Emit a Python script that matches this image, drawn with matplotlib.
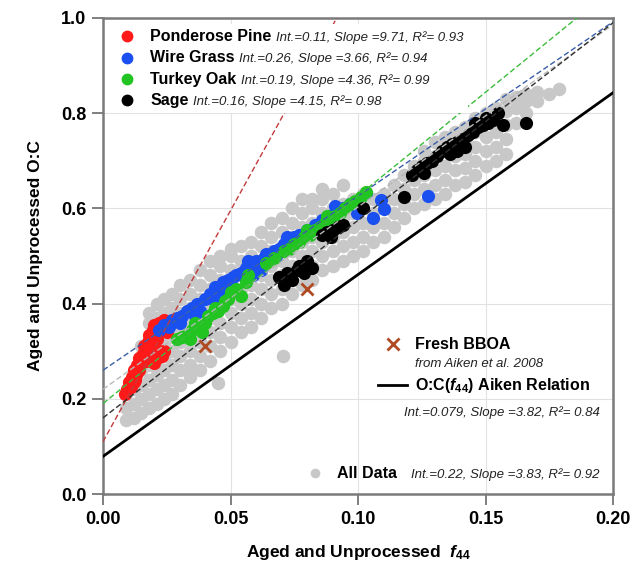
import numpy as np
import matplotlib
matplotlib.use("Agg")
import matplotlib.pyplot as plt
from matplotlib.lines import Line2D
from matplotlib.ticker import FormatStrFormatter
from matplotlib.offsetbox import AnchoredOffsetbox, HPacker, VPacker, TextArea, DrawingArea

plt.rcParams['font.family'] = ['Liberation Sans', 'DejaVu Sans']
plt.rcParams['mathtext.fontset'] = 'custom'
plt.rcParams['mathtext.rm'] = 'Liberation Sans:bold'
plt.rcParams['mathtext.bf'] = 'Liberation Sans:bold'
plt.rcParams['mathtext.it'] = 'Liberation Sans:italic:bold'

# ---- data ----
# All data (grey): one f44 value per column, with the O:C values in that column
gray_col_f44 = [0.009, 0.012, 0.015, 0.018, 0.021, 0.024, 0.027, 0.030, 0.034, 0.038,
                0.042, 0.045, 0.046, 0.050, 0.054, 0.058, 0.062, 0.066, 0.0705, 0.070,
                0.074, 0.078, 0.082, 0.086, 0.090, 0.094, 0.098, 0.102, 0.106, 0.110,
                0.114, 0.118, 0.122, 0.126, 0.130, 0.134, 0.138, 0.142, 0.146, 0.150,
                0.154, 0.158, 0.162, 0.166, 0.170, 0.175, 0.179]
gray_col_oc = [
    [0.155, 0.18, 0.21],
    [0.16, 0.19, 0.22, 0.25],
    [0.17, 0.20, 0.23, 0.26, 0.29, 0.31],
    [0.18, 0.21, 0.24, 0.27, 0.30, 0.33, 0.36, 0.38],
    [0.19, 0.22, 0.25, 0.28, 0.31, 0.34, 0.37, 0.40],
    [0.20, 0.23, 0.26, 0.29, 0.32, 0.35, 0.38, 0.41],
    [0.21, 0.24, 0.27, 0.30, 0.33, 0.36, 0.39, 0.42],
    [0.23, 0.26, 0.29, 0.32, 0.35, 0.38, 0.41, 0.44],
    [0.245, 0.27, 0.30, 0.33, 0.36, 0.39, 0.42, 0.45],
    [0.26, 0.29, 0.32, 0.35, 0.38, 0.41, 0.44, 0.47],
    [0.28, 0.31, 0.34, 0.37, 0.40, 0.43, 0.46, 0.49],
    [0.233],
    [0.30, 0.33, 0.36, 0.39, 0.42, 0.45, 0.48, 0.50],
    [0.32, 0.35, 0.38, 0.41, 0.44, 0.47, 0.50, 0.515],
    [0.34, 0.37, 0.40, 0.43, 0.46, 0.49, 0.52],
    [0.35, 0.38, 0.41, 0.44, 0.47, 0.50, 0.53],
    [0.37, 0.40, 0.43, 0.46, 0.49, 0.52, 0.55],
    [0.39, 0.42, 0.45, 0.48, 0.51, 0.54, 0.57],
    [0.29],
    [0.40, 0.43, 0.46, 0.49, 0.52, 0.55, 0.58],
    [0.42, 0.45, 0.48, 0.51, 0.54, 0.57, 0.60],
    [0.44, 0.47, 0.50, 0.53, 0.56, 0.59, 0.62],
    [0.45, 0.48, 0.51, 0.54, 0.57, 0.60, 0.62],
    [0.47, 0.50, 0.53, 0.56, 0.59, 0.62, 0.64],
    [0.48, 0.51, 0.54, 0.57, 0.60, 0.63],
    [0.49, 0.52, 0.55, 0.58, 0.61, 0.65],
    [0.50, 0.53, 0.56, 0.59, 0.62],
    [0.51, 0.54, 0.57, 0.60, 0.63],
    [0.53, 0.56, 0.59, 0.62],
    [0.54, 0.57, 0.60, 0.63],
    [0.56, 0.59, 0.62, 0.65],
    [0.58, 0.61, 0.64, 0.67],
    [0.60, 0.63, 0.66, 0.69],
    [0.61, 0.64, 0.67, 0.70, 0.72],
    [0.62, 0.65, 0.68, 0.71, 0.74],
    [0.63, 0.66, 0.69, 0.72, 0.75],
    [0.65, 0.68, 0.71, 0.74, 0.76],
    [0.655, 0.685, 0.715, 0.745, 0.77],
    [0.67, 0.70, 0.73, 0.76, 0.79],
    [0.69, 0.72, 0.75, 0.78, 0.80],
    [0.70, 0.73, 0.76, 0.79, 0.81],
    [0.715, 0.745, 0.775, 0.805, 0.83],
    [0.78, 0.81, 0.835],
    [0.80, 0.825, 0.84],
    [0.825, 0.845],
    [0.84],
    [0.85],
]

# Ponderose Pine
pine_f44 = [0.0085, 0.0095, 0.0100, 0.0110, 0.0115, 0.0120, 0.0125, 0.0130, 0.0135, 0.0140,
            0.0150, 0.0155, 0.0160, 0.0170, 0.0175, 0.0180, 0.0190, 0.0195, 0.0200, 0.0210,
            0.0220, 0.0230, 0.0240, 0.0250, 0.0190, 0.0210, 0.0230, 0.0240, 0.0200, 0.0165,
            0.0170, 0.0220, 0.0180, 0.0140, 0.0210, 0.0160, 0.0120, 0.0250]
pine_oc = [0.210, 0.220, 0.235, 0.225, 0.245, 0.260, 0.240, 0.250, 0.270, 0.285,
           0.275, 0.295, 0.310, 0.300, 0.320, 0.335, 0.325, 0.345, 0.355, 0.340,
           0.360, 0.350, 0.365, 0.355, 0.290, 0.285, 0.290, 0.300, 0.275, 0.280,
           0.280, 0.300, 0.310, 0.260, 0.325, 0.290, 0.235, 0.340]

# Wire Grass
grass_f44 = [0.022, 0.024, 0.026, 0.027, 0.029, 0.031, 0.033, 0.035, 0.037, 0.038,
             0.040, 0.040, 0.042, 0.044, 0.045, 0.047, 0.049, 0.050, 0.052, 0.054,
             0.056, 0.058, 0.059, 0.060, 0.062, 0.063, 0.065, 0.067, 0.069, 0.071,
             0.073, 0.075, 0.077, 0.080, 0.083, 0.086, 0.089, 0.091, 0.094, 0.097,
             0.0995, 0.103, 0.106, 0.109, 0.110, 0.1275, 0.046, 0.051, 0.055, 0.057,
             0.064, 0.068, 0.072, 0.043, 0.036, 0.030]
grass_oc = [0.345, 0.355, 0.350, 0.365, 0.370, 0.375, 0.385, 0.390, 0.400, 0.385,
            0.410, 0.375, 0.420, 0.435, 0.420, 0.445, 0.450, 0.440, 0.460, 0.465,
            0.475, 0.480, 0.460, 0.490, 0.470, 0.495, 0.500, 0.510, 0.515, 0.525,
            0.530, 0.540, 0.545, 0.555, 0.565, 0.575, 0.585, 0.605, 0.600, 0.610,
            0.590, 0.632, 0.580, 0.617, 0.598, 0.626, 0.430, 0.455, 0.460, 0.490,
            0.505, 0.500, 0.540, 0.410, 0.375, 0.360]

# Turkey Oak
oak_f44 = [0.029, 0.031, 0.033, 0.035, 0.036, 0.038, 0.040, 0.041, 0.043, 0.045,
           0.047, 0.049, 0.050, 0.052, 0.054, 0.056, 0.057, 0.064, 0.067, 0.071,
           0.073, 0.075, 0.077, 0.079, 0.080, 0.081, 0.083, 0.085, 0.087, 0.088,
           0.089, 0.091, 0.093, 0.095, 0.097, 0.099, 0.101, 0.103, 0.034, 0.039,
           0.044, 0.048]
oak_oc = [0.325, 0.330, 0.335, 0.345, 0.360, 0.350, 0.360, 0.375, 0.380, 0.385,
          0.395, 0.410, 0.425, 0.430, 0.415, 0.445, 0.460, 0.485, 0.495, 0.510,
          0.515, 0.525, 0.530, 0.540, 0.555, 0.545, 0.555, 0.560, 0.570, 0.585,
          0.575, 0.585, 0.590, 0.600, 0.610, 0.615, 0.625, 0.635, 0.325, 0.340,
          0.390, 0.405]

# Sage
sage_f44 = [0.069, 0.071, 0.072, 0.074, 0.076, 0.077, 0.079, 0.080, 0.082, 0.086,
            0.088, 0.0895, 0.090, 0.092, 0.094, 0.102, 0.118, 0.121, 0.123, 0.125,
            0.126, 0.127, 0.129, 0.131, 0.133, 0.135, 0.136, 0.137, 0.139, 0.139,
            0.141, 0.142, 0.143, 0.145, 0.146, 0.147, 0.149, 0.150, 0.151, 0.153,
            0.155, 0.157, 0.166]
sage_oc = [0.455, 0.440, 0.465, 0.450, 0.470, 0.480, 0.465, 0.490, 0.475, 0.545,
           0.550, 0.540, 0.555, 0.560, 0.565, 0.600, 0.624, 0.670, 0.680, 0.690,
           0.675, 0.695, 0.700, 0.710, 0.720, 0.730, 0.715, 0.735, 0.740, 0.720,
           0.745, 0.730, 0.755, 0.760, 0.780, 0.770, 0.775, 0.790, 0.780, 0.785,
           0.800, 0.775, 0.780]

# Fresh BBOA (Aiken et al. 2008)
bboa_f44 = [0.04, 0.08]
bboa_oc = [0.31, 0.43]

# fits: intercept, slope, R2
species = ['Ponderose Pine', 'Wire Grass', 'Turkey Oak', 'Sage']
fit_int = [0.11, 0.26, 0.19, 0.16]
fit_slope = [9.71, 3.66, 4.36, 4.15]
fit_r2 = [0.93, 0.94, 0.99, 0.98]
all_fit = (0.22, 3.83, 0.92)
aiken_fit = (0.079, 3.82, 0.84)

dot_colors = ['#ff1a1a', '#1a4ff0', '#22c422', '#000000']
line_colors = ['#c23b3b', '#3a5ea8', '#3cbc3c', '#303030']
gray = '#c8c8c8'
brown = '#b04a22'

gray_f44 = np.repeat(gray_col_f44, [len(c) for c in gray_col_oc])
gray_oc = np.concatenate(gray_col_oc)

# ---- figure ----
fig = plt.figure(figsize=(6.34, 5.66), dpi=100)
ax = fig.add_axes([0.1625, 0.1272, 0.8044, 0.841])

ax.scatter(gray_f44, gray_oc, s=95, color=gray, lw=0, zorder=2)
for fx, fy, c in zip([pine_f44, grass_f44, oak_f44, sage_f44],
                     [pine_oc, grass_oc, oak_oc, sage_oc], dot_colors):
    ax.scatter(fx, fy, s=90, color=c, lw=0, zorder=3)

xx = np.array([0.0, 0.2])
ax.plot(xx, all_fit[0] + all_fit[1] * xx, ls=(0, (4, 2)), lw=1, color='#b8b8b8', zorder=4)
for b, m, c in zip(fit_int, fit_slope, line_colors):
    ax.plot(xx, b + m * xx, ls=(0, (4, 2)), lw=1, color=c, zorder=4)
ax.plot(xx, aiken_fit[0] + aiken_fit[1] * xx, color='black', lw=2, zorder=4)

ax.plot(bboa_f44, bboa_oc, ls='', marker='x', ms=9, mew=2, color=brown, zorder=5)

ax.set_xlim(0, 0.2)
ax.set_ylim(0, 1.0)
ax.set_xticks(np.arange(0, 0.201, 0.05))
ax.set_yticks(np.arange(0, 1.01, 0.2))
ax.xaxis.set_major_formatter(FormatStrFormatter('%.2f'))
ax.yaxis.set_major_formatter(FormatStrFormatter('%.1f'))
ax.grid(color='#e2e2e2', lw=0.8)
ax.set_axisbelow(True)
for sp in ax.spines.values():
    sp.set_color('#7a7a7a')
    sp.set_linewidth(1.8)
ax.tick_params(direction='out', length=8, width=1.2, color='#6a6a6a',
               labelsize=13, pad=4)
for lbl in ax.get_xticklabels() + ax.get_yticklabels():
    lbl.set_fontweight('bold')

ax.set_xlabel(r'Aged and Unprocessed  $f_{44}$', fontsize=12.5, fontweight='bold', labelpad=11)
ax.set_ylabel('Aged and Unprocessed O:C', fontsize=12.5, fontweight='bold', labelpad=13)

bold = dict(fontsize=11.5, fontweight='bold', color='black')
ital = dict(fontsize=9.5, style='italic', color='#222222')


def stat_text(b, m, r2):
    return f'Int.={b:g}, Slope ={m:.2f}, R\u00b2= {r2:.2f}'


# upper-left legend with white background
rows = []
for name, c, b, m, r2 in zip(species, dot_colors, fit_int, fit_slope, fit_r2):
    da = DrawingArea(12, 10, 0, 2)
    da.add_artist(Line2D([6], [3.5], marker='o', ms=7.5, ls='', mfc=c, mec=c))
    words = HPacker(children=[TextArea(name, textprops=bold),
                              TextArea(stat_text(b, m, r2), textprops=ital)],
                    align='baseline', pad=0, sep=3)
    rows.append(HPacker(children=[da, words], align='baseline', pad=0, sep=10.5))
box = AnchoredOffsetbox(loc='upper left', child=VPacker(children=rows, align='left', pad=0, sep=4.6),
                        pad=0.35, borderpad=0, frameon=True,
                        bbox_to_anchor=(0.022, 0.987), bbox_transform=ax.transAxes)
box.patch.set_facecolor('white')
box.patch.set_edgecolor('none')
box.zorder = 6
ax.add_artist(box)

# lower-right legend
da_x = DrawingArea(22, 10, 0, 2)
da_x.add_artist(Line2D([11], [3.5], marker='x', ms=9, mew=2, ls='', color=brown))
row1 = HPacker(children=[da_x, TextArea('Fresh BBOA', textprops=bold)], align='baseline', pad=0, sep=5)
row2 = HPacker(children=[DrawingArea(22, 1), TextArea('from Aiken et al. 2008', textprops=ital)],
               align='baseline', pad=0, sep=5)
da_l = DrawingArea(22, 10, 0, 2)
da_l.add_artist(Line2D([0, 21], [3.5, 3.5], color='black', lw=2))
row3 = HPacker(children=[da_l, TextArea(r'O:C($f_{44}$) Aiken Relation', textprops=bold)],
               align='baseline', pad=0, sep=5)
row4 = HPacker(children=[DrawingArea(14, 1), TextArea(stat_text(*aiken_fit), textprops=ital)],
               align='baseline', pad=0, sep=5)
blk = VPacker(children=[VPacker(children=[row1, row2], align='left', pad=0, sep=4.6),
                        VPacker(children=[row3, row4], align='left', pad=0, sep=7.6)],
              align='left', pad=0, sep=4.3)
box2 = AnchoredOffsetbox(loc='upper left', child=blk, pad=0, borderpad=0, frameon=False,
                         bbox_to_anchor=(0.539, 0.330), bbox_transform=ax.transAxes)
box2.zorder = 6
ax.add_artist(box2)

da_g = DrawingArea(10, 10, 0, 2)
da_g.add_artist(Line2D([5], [3.5], marker='o', ms=6, ls='', mfc=gray, mec=gray))
row_all = HPacker(children=[da_g, HPacker(children=[TextArea('All Data', textprops=bold),
                                                    TextArea(stat_text(*all_fit), textprops=ital)],
                                          align='baseline', pad=0, sep=10)],
                  align='baseline', pad=0, sep=11)
box3 = AnchoredOffsetbox(loc='center left', child=row_all, pad=0, borderpad=0, frameon=False,
                         bbox_to_anchor=(0.402, 0.044), bbox_transform=ax.transAxes)
box3.zorder = 6
ax.add_artist(box3)

fig.savefig('out.png', dpi=100)
